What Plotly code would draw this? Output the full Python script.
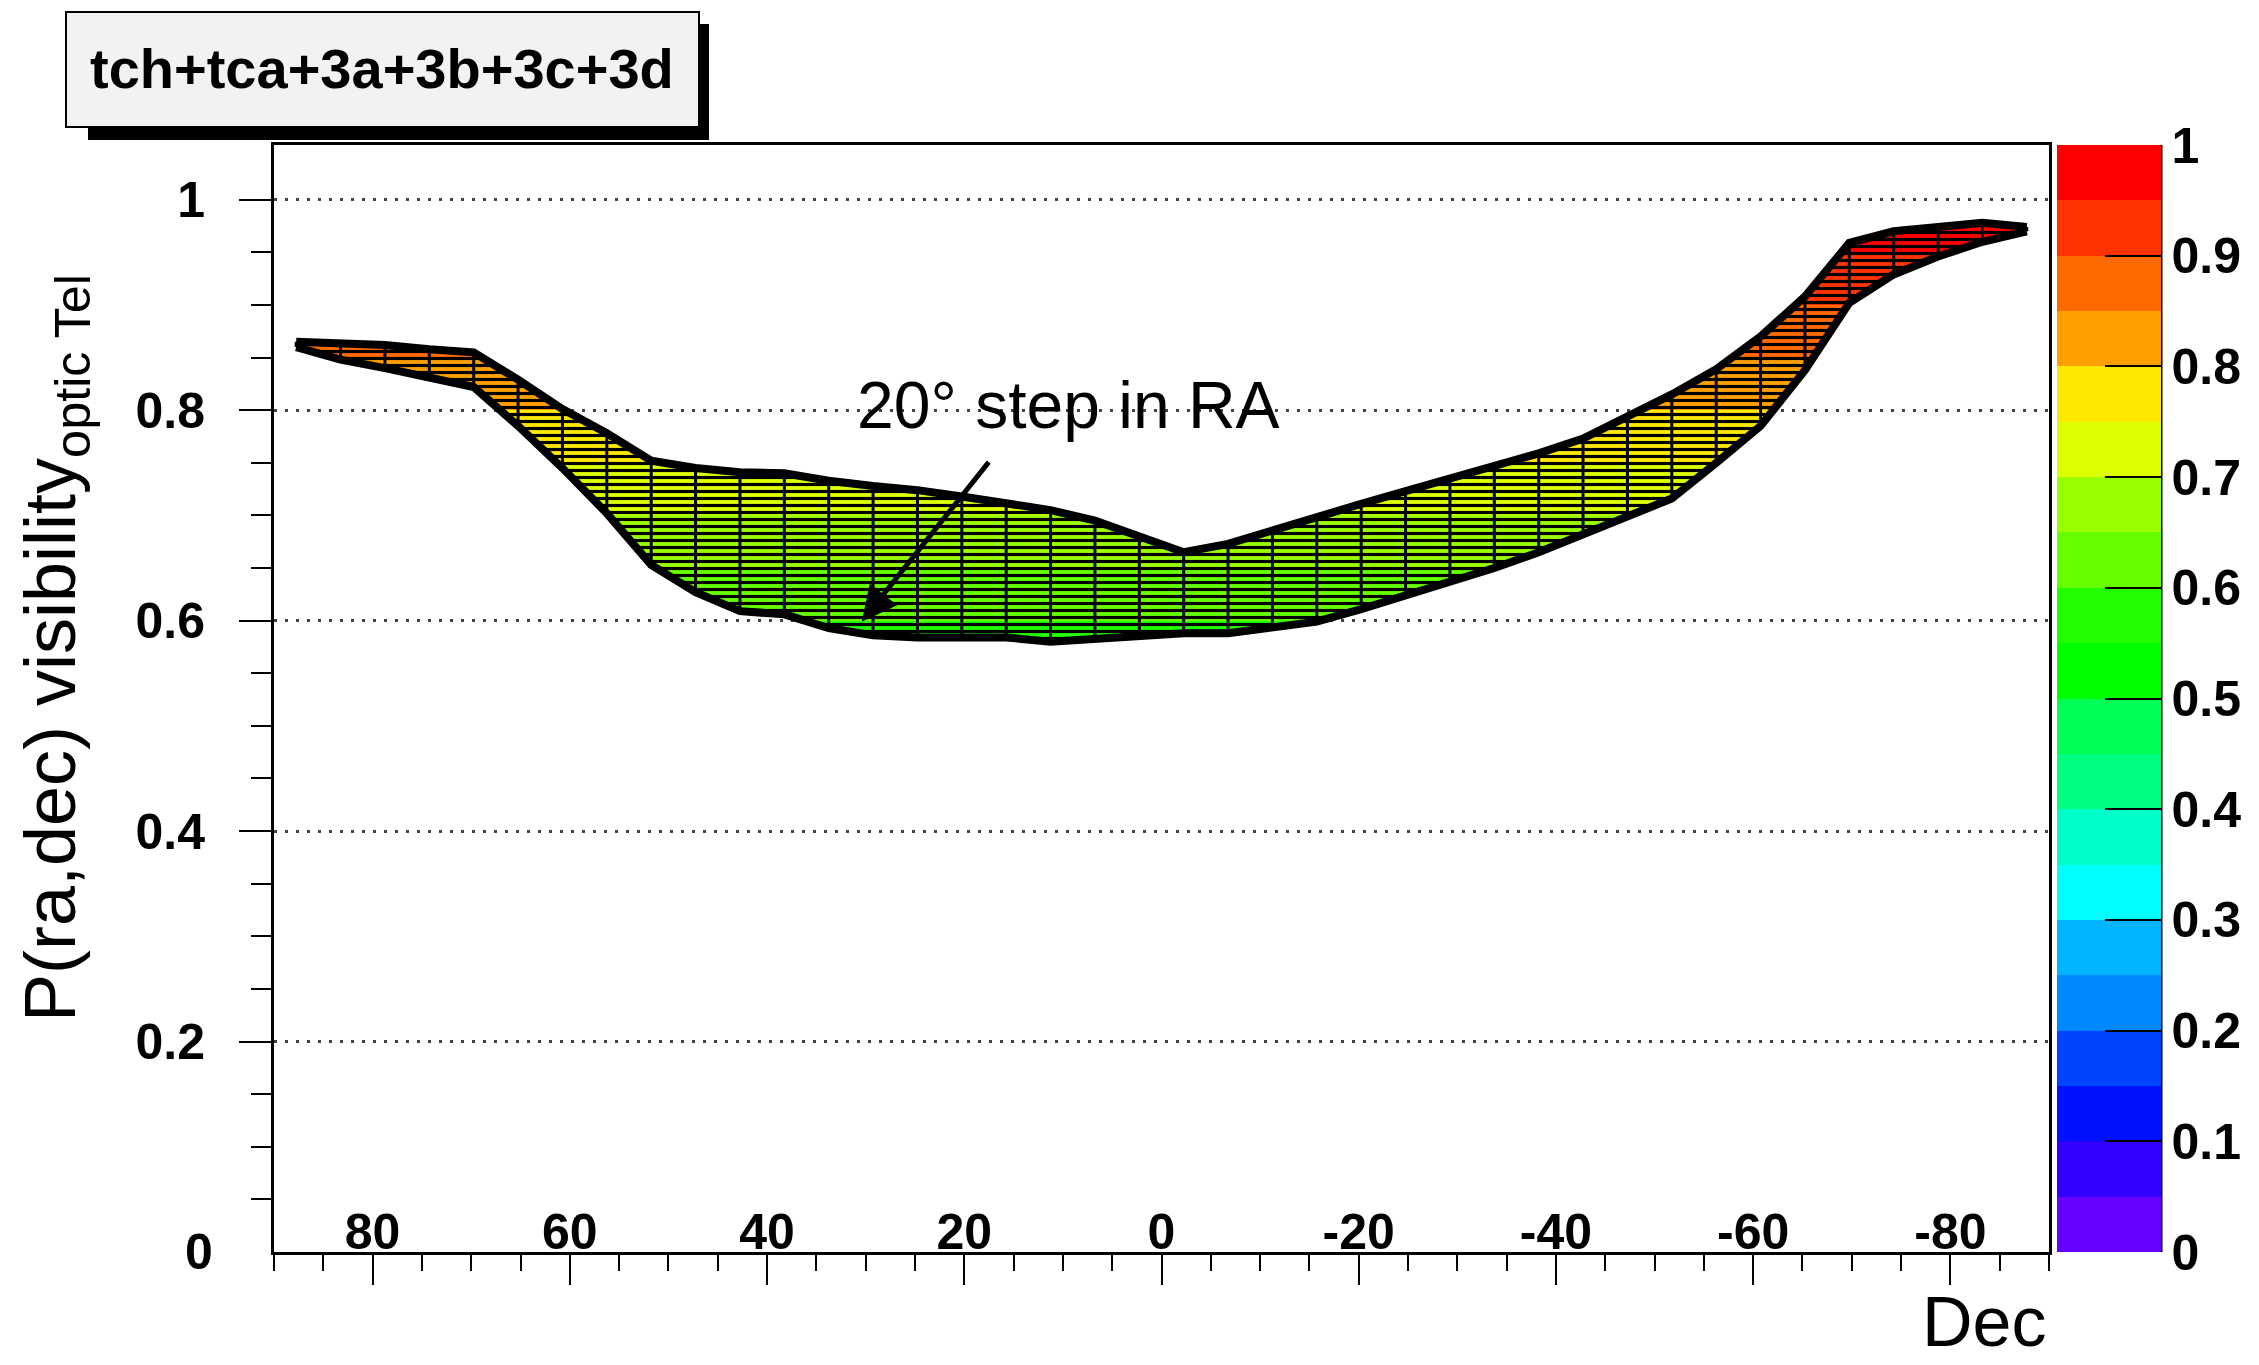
import plotly.graph_objects as go

# Declination bin centres (4.5 deg bins) and the visibility envelope over all RA steps
dec_bins = [87.75, 83.25, 78.75, 74.25, 69.75, 65.25, 60.75, 56.25, 51.75, 47.25,
            42.75, 38.25, 33.75, 29.25, 24.75, 20.25, 15.75, 11.25, 6.75, 2.25,
            -2.25, -6.75, -11.25, -15.75, -20.25, -24.75, -29.25, -33.75, -38.25, -42.75,
            -47.25, -51.75, -56.25, -60.75, -65.25, -69.75, -74.25, -78.75, -83.25, -87.75]

p_max = [0.865, 0.864, 0.862, 0.858, 0.855, 0.829, 0.801, 0.778, 0.752, 0.745,
         0.741, 0.740, 0.733, 0.728, 0.724, 0.718, 0.712, 0.705, 0.695, 0.680,
         0.665, 0.673, 0.686, 0.699, 0.711, 0.723, 0.735, 0.746, 0.759, 0.773,
         0.793, 0.815, 0.839, 0.870, 0.908, 0.959, 0.970, 0.974, 0.978, 0.974]

p_min = [0.860, 0.848, 0.840, 0.831, 0.822, 0.785, 0.745, 0.702, 0.653, 0.627,
         0.609, 0.606, 0.593, 0.586, 0.584, 0.584, 0.584, 0.580, 0.583, 0.586,
         0.588, 0.588, 0.593, 0.599, 0.611, 0.624, 0.636, 0.650, 0.665, 0.682,
         0.698, 0.716, 0.750, 0.785, 0.838, 0.902, 0.929, 0.946, 0.960, 0.970]

# 20-level palette, 0 -> 1
palette = ["#6600FF", "#3300FF", "#0011FF", "#0044FF", "#0088FF",
           "#00B4FF", "#00FFFF", "#00FFC8", "#00FF80", "#00FF55",
           "#00FF00", "#22FF00", "#66FF00", "#99FF00", "#DDFF00",
           "#FFE800", "#FFA000", "#FF6A00", "#FF3300", "#FF0000"]

x_ticks = [80, 60, 40, 20, 0, -20, -40, -60, -80]
x_ticktext = ["80", "60", "40", "20", "0", "-20", "-40", "-60", "-80"]
y_ticks = [0, 0.2, 0.4, 0.6, 0.8, 1.0]
y_ticktext = ["0", "0.2", "0.4", "0.6", "0.8", "1"]
z_ticks = [0, 0.1, 0.2, 0.3, 0.4, 0.5, 0.6, 0.7, 0.8, 0.9, 1.0]
z_ticktext = ["0", "0.1", "0.2", "0.3", "0.4", "0.5", "0.6", "0.7", "0.8", "0.9", "1"]

title_text = "tch+tca+3a+3b+3c+3d"
note_text = "20° step in RA"

W, H = 2259, 1365
L_M, R_M, T_M, B_M = 274, 210, 145, 113
PW, PH = W - L_M - R_M, H - T_M - B_M


def px_x(px):
    return (px - L_M) / PW


def px_y(py):
    return (H - B_M - py) / PH


n = len(palette)
band_scale = []
for k, c in enumerate(palette):
    band_scale.append([k / n, c])
    band_scale.append([(k + 1) / n, c])

FONT = "Liberation Sans"

poly_x = dec_bins + dec_bins[::-1]
poly_y = p_max + p_min[::-1]

fig = go.Figure()

# surface colour, by visibility level
fig.add_trace(go.Scatter(
    x=poly_x, y=poly_y, mode="lines", line=dict(width=0), fill="toself",
    fillgradient=dict(type="vertical", colorscale=band_scale, start=0, stop=1),
    hoverinfo="skip", showlegend=False))

# mesh texture along RA steps
fig.add_trace(go.Scatter(
    x=poly_x, y=poly_y, mode="none", fill="toself", fillcolor="rgba(0,0,0,0)",
    fillpattern=dict(shape="-", fgcolor="black", bgcolor="rgba(0,0,0,0)",
                     size=7, solidity=0.45, fgopacity=1),
    hoverinfo="skip", showlegend=False))

# mesh lines at each declination bin
vx, vy = [], []
for d, lo, hi in zip(dec_bins, p_min, p_max):
    vx += [d, d, None]
    vy += [lo, hi, None]
fig.add_trace(go.Scatter(x=vx, y=vy, mode="lines", line=dict(color="black", width=3),
                         hoverinfo="skip", showlegend=False))

# envelope edges
for edge in (p_max, p_min):
    fig.add_trace(go.Scatter(x=dec_bins, y=edge, mode="lines",
                             line=dict(color="black", width=8),
                             hoverinfo="skip", showlegend=False))

# colour scale carrier
fig.add_trace(go.Scatter(
    x=[None], y=[None], mode="markers", hoverinfo="skip", showlegend=False,
    marker=dict(color=[0.5], cmin=0, cmax=1, colorscale=band_scale, showscale=True,
                colorbar=dict(
                    x=px_x(2057), xanchor="left", xpad=0,
                    y=0.5, yanchor="middle", len=1, lenmode="fraction", ypad=0,
                    thickness=104, thicknessmode="pixels", outlinewidth=0,
                    tickmode="array", tickvals=z_ticks, ticktext=z_ticktext,
                    ticks="inside", ticklen=56, tickwidth=2, tickcolor="black",
                    tickfont=dict(family=FONT, size=50, color="black", weight="bold")))))

axis_font = dict(family=FONT, size=50, color="black", weight="bold")

fig.update_xaxes(
    range=[90, -90], showgrid=False, zeroline=False,
    showline=True, linecolor="black", linewidth=3, mirror=True,
    tickmode="array", tickvals=x_ticks, ticktext=x_ticktext,
    ticks="outside", ticklen=30, tickwidth=2, tickcolor="black",
    ticklabelposition="inside", tickfont=axis_font,
    minor=dict(tickmode="array", tickvals=list(range(-90, 91, 5)),
               ticks="outside", ticklen=16, tickwidth=2, tickcolor="black", showgrid=False),
    automargin=False)

# the corner label of the P axis is written as an annotation so it is not
# suppressed where it meets the Dec axis
y_axis_text = [t if v != 0 else "" for v, t in zip(y_ticks, y_ticktext)]

fig.update_yaxes(
    range=[0, 1.052], zeroline=False,
    showline=True, linecolor="black", linewidth=3, mirror=True,
    tickmode="array", tickvals=y_ticks, ticktext=y_axis_text,
    ticks="outside", ticklen=32, tickwidth=2, tickcolor="black",
    tickfont=axis_font, ticklabelstandoff=24,
    showgrid=True, gridcolor="#444444", gridwidth=3, griddash="3px,8px",
    minor=dict(tickmode="array", tickvals=[i * 0.05 for i in range(21)],
               ticks="outside", ticklen=20, tickwidth=2, tickcolor="black", showgrid=False),
    automargin=False)

shapes = [
    # right edge of the colour scale
    dict(type="line", xref="paper", yref="paper", x0=px_x(2161), x1=px_x(2161), y0=0, y1=1,
         line=dict(color="black", width=3)),
    # title box shadow and box
    dict(type="rect", xref="paper", yref="paper", x0=px_x(88), x1=px_x(709),
         y0=px_y(140), y1=px_y(24), fillcolor="black", line=dict(width=0)),
    dict(type="rect", xref="paper", yref="paper", x0=px_x(66), x1=px_x(699),
         y0=px_y(127), y1=px_y(12), fillcolor="#F2F2F2", line=dict(color="black", width=2)),
]

annotations = [
    dict(text=y_ticktext[0], xref="paper", yref="y", x=px_x(215), y=y_ticks[0],
         xanchor="right", yanchor="middle", showarrow=False, font=axis_font),
    dict(text=title_text, xref="paper", yref="paper", x=px_x(382), y=px_y(69),
         xanchor="center", yanchor="middle", showarrow=False,
         font=dict(family=FONT, size=56, color="black", weight="bold")),
    dict(text="P(ra,dec) visibility<sub>optic Tel</sub>", xref="paper", yref="paper",
         x=px_x(55), y=px_y(648), xanchor="center", yanchor="middle", textangle=-90,
         showarrow=False, font=dict(family=FONT, size=72, color="black")),
    dict(text="Dec", xref="paper", yref="paper", x=px_x(2048), y=px_y(1322),
         xanchor="right", yanchor="middle", showarrow=False,
         font=dict(family=FONT, size=70, color="black")),
    dict(text=note_text, xref="paper", yref="paper", x=px_x(1068), y=px_y(405),
         xanchor="center", yanchor="middle", showarrow=False,
         font=dict(family=FONT, size=66, color="black")),
    dict(text="", x=30.4, y=0.599, xref="x", yref="y", ax=17.4, ay=0.752,
         axref="x", ayref="y", showarrow=True, arrowhead=2, arrowsize=1.4,
         arrowwidth=5, arrowcolor="black", standoff=0),
]

fig.update_layout(
    width=W, height=H,
    margin=dict(l=L_M, r=R_M, t=T_M, b=B_M, autoexpand=False),
    paper_bgcolor="white", plot_bgcolor="white",
    showlegend=False, shapes=shapes, annotations=annotations,
)

fig.write_html("out.html")
